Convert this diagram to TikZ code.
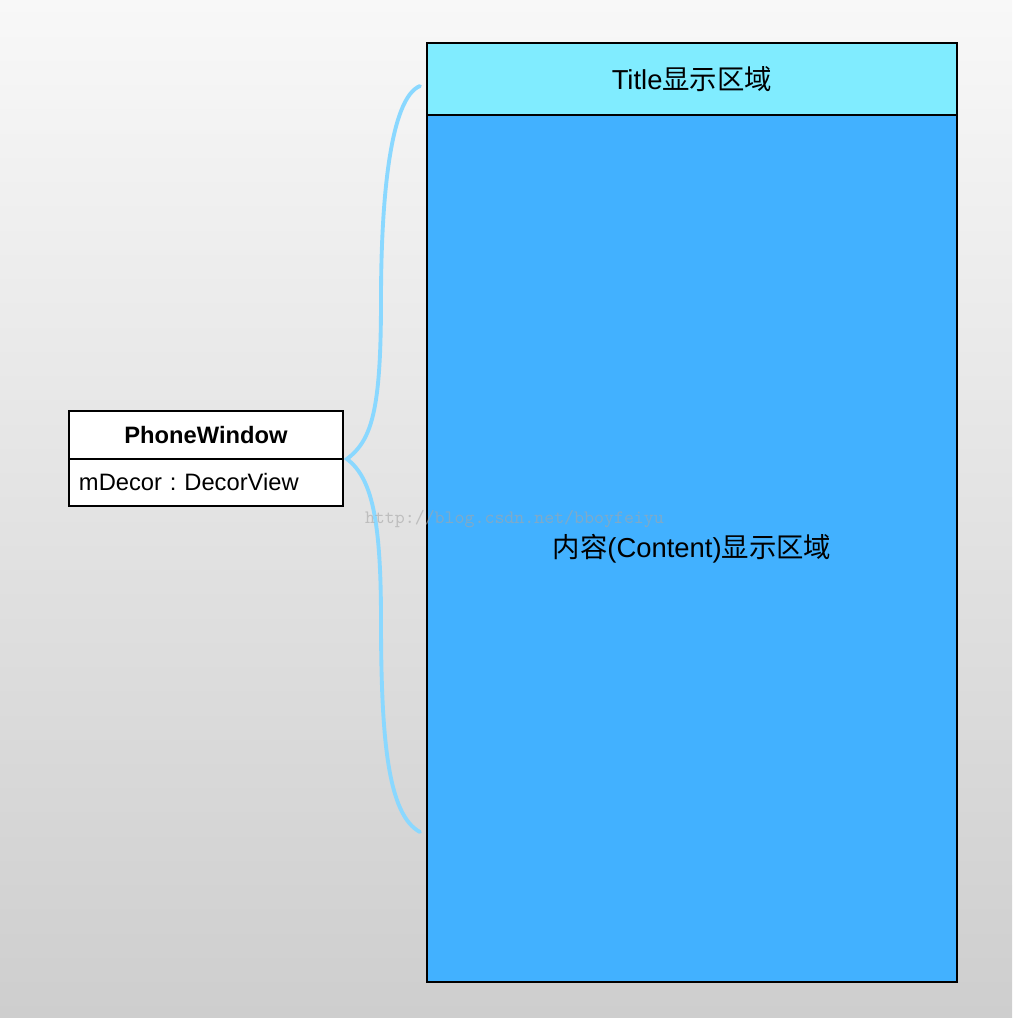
\documentclass[tikz,border=0pt]{standalone}
\usepackage{fontspec}
\setmainfont{Liberation Sans}
\newfontfamily\cjk{Noto Sans CJK SC}
\usetikzlibrary{positioning}
\definecolor{bgtop}{HTML}{F8F8F8}
\definecolor{bgbot}{HTML}{CECECE}
\definecolor{titlecyan}{HTML}{80ECFF}
\definecolor{contentblue}{HTML}{42B1FF}
\definecolor{bracecol}{HTML}{8AD8FF}
\frenchspacing

\begin{document}
\begin{tikzpicture}[
        x=0.02cm, y=-0.02cm,
        every node/.style={outer sep=0pt, inner sep=0pt},
        region/.style={draw, line width=1.1pt, minimum width=10.6cm, font=\fontsize{15.6}{18}\selectfont},
        titlebar/.style={region, fill=titlecyan, minimum height=1.44cm},
        contentarea/.style={region, fill=contentblue, minimum height=17.34cm},
        classbox/.style={draw, line width=1.1pt, fill=white, minimum width=5.48cm, font=\fontsize{13.5}{16}\selectfont},
        classhead/.style={classbox, minimum height=0.96cm, font=\fontsize{13.5}{16}\selectfont\bfseries},
        classbody/.style={classbox, minimum height=0.94cm, text width=5.08cm, align=left},
        watermark/.style={text=gray!70, opacity=0.6, font=\fontsize{10.8}{12}\ttfamily}
    ]
        % background
        \shade[top color=bgtop, bottom color=bgbot] (0,0) rectangle (1012,1018);

        % phone window regions
        \node[titlebar, anchor=north west] (title) at (427,43) {Title{\cjk 显示区域}};
        \node[contentarea, below=0pt of title] (content) {{\cjk 内容}(Content){\cjk 显示区域}};

        % class box
        \node[classhead, anchor=north west] (pwhead) at (69,411) {PhoneWindow};
        \node[classbody, below=0pt of pwhead] (pwbody) {mDecor : DecorView};

        % brace
        \coordinate (tip) at ([xshift=0.08cm]pwhead.south east);
        \coordinate (bracetop) at (420,86);
        \coordinate (bracebot) at (420,832);
        \draw[bracecol, line width=2.2pt, line cap=round]
            (bracetop) .. controls (390,98) and (381,200) .. (381,300)
            .. controls (381,410) and (372,440) .. (tip)
            .. controls (372,478) and (381,520) .. (381,620)
            .. controls (381,740) and (388,815) .. (bracebot);

        \node[watermark, anchor=west] (mark) at (365,519) {http://blog.csdn.net/bboyfeiyu};
    \end{tikzpicture}
\end{document}
